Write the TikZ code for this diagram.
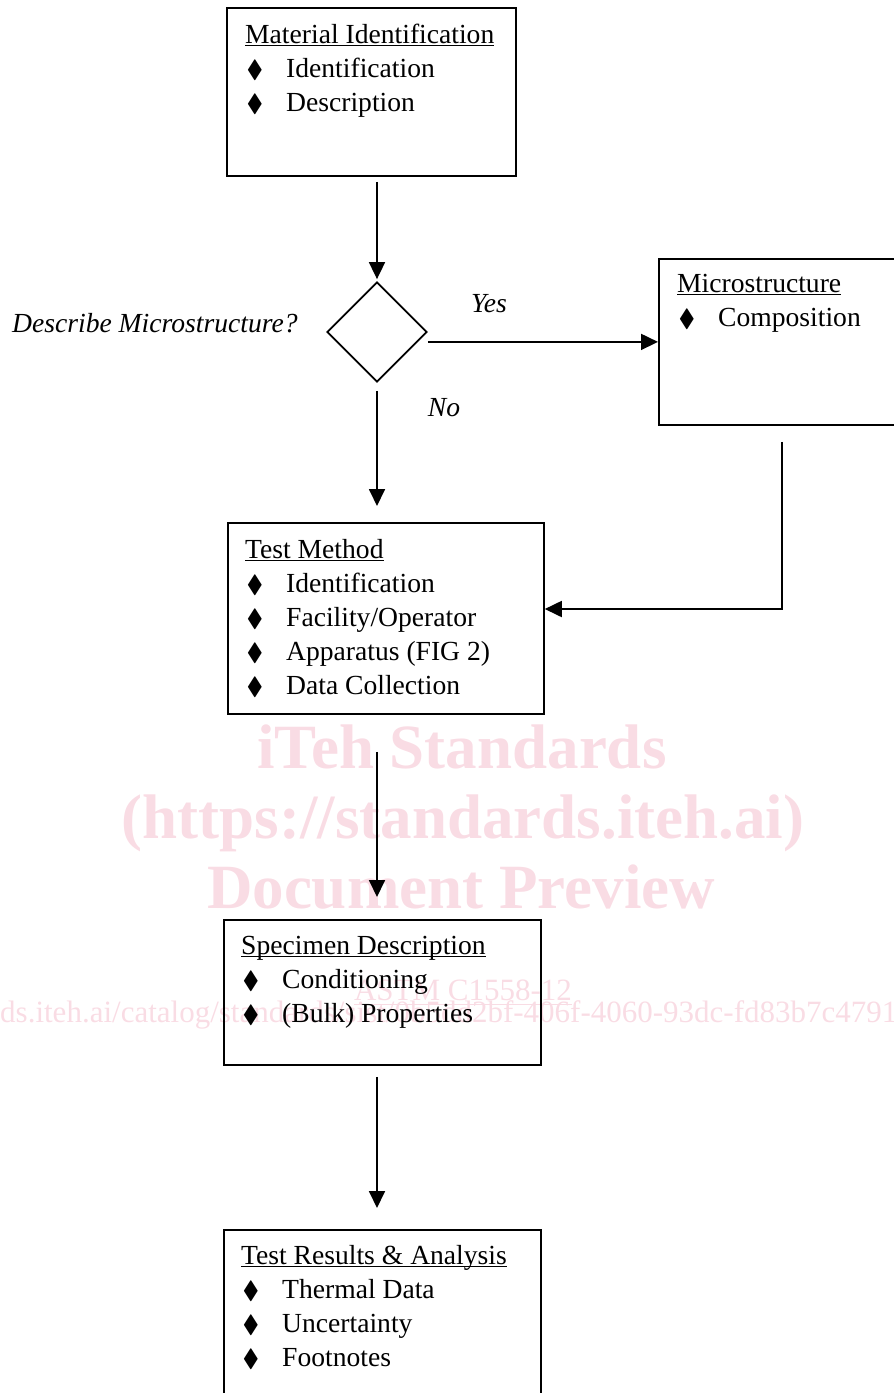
\documentclass[tikz,border=0pt]{standalone}
\usepackage{amssymb}
\usepackage{fontspec}
\setmainfont{Liberation Serif}
\usetikzlibrary{shapes.geometric,arrows.meta}

\definecolor{wmpink}{RGB}{249,220,228}
\newcommand{\hd}[1]{\setbox0=\hbox{#1}\rlap{\rule[-3pt]{\wd0}{1.3pt}}\box0}
\newcommand{\itm}[1]{\makebox[41pt][l]{\hspace{1.5pt}\scalebox{0.9}{$\blacklozenge$}}#1}

\tikzset{
	flowbox/.style={draw, line width=1.8pt, anchor=north west, inner sep=0pt},
	boxtext/.style={anchor=base west, inner sep=0pt, font=\fontsize{27.6}{34}\selectfont},
	lbl/.style={inner sep=0pt, anchor=base, font=\fontsize{27.6}{34}\selectfont\itshape},
	flow/.style={line width=1.8pt, -{Triangle[length=17pt,width=16pt]}},
	wmark/.style={text=wmpink, inner sep=0pt, anchor=base}
}

\begin{document}
\begin{tikzpicture}[x=1pt,y=-1pt]
				\useasboundingbox (0,0) rectangle (894,1393);
				
				% watermark
				\node[wmark, font=\fontsize{63}{70}\selectfont\bfseries] (wmone) at (462,768) {iTeh Standards};
				\node[wmark, font=\fontsize{63}{70}\selectfont\bfseries] (wmtwo) at (463,838) {(https://standards.iteh.ai)};
				\node[wmark, font=\fontsize{63}{70}\selectfont\bfseries] (wmthree) at (461,908) {Document Preview};
				\node[wmark, font=\fontsize{31}{34}\selectfont] (wmfour) at (463,1000) {\underline{ASTM C1558-12}};
				\node[wmark, anchor=base west, font=\fontsize{31}{34}\selectfont] (wmfive) at (0,1022) {ds.iteh.ai/catalog/standards/sist/0b5dd2bf-406f-4060-93dc-fd83b7c47913};
				
				% boxes
				\node[flowbox, minimum width=289pt, minimum height=168pt] (matid) at (226,7) {};
				\node[draw, diamond, line width=1.8pt, inner sep=0pt, minimum width=100pt, minimum height=100pt] (dia) at (377,332) {};
				\node[flowbox, minimum width=248pt, minimum height=166pt] (micro) at (658,258) {};
				\node[flowbox, minimum width=316pt, minimum height=191pt] (tmethod) at (227,522) {};
				\node[flowbox, minimum width=317pt, minimum height=145pt] (specim) at (223,919) {};
				\node[flowbox, minimum width=317pt, minimum height=176pt] (results) at (223,1229) {};
				
				% box texts
				\node[boxtext] (matidtext) at (245,43) {\begin{tabular}[t]{@{}l@{}}
					\hd{Material Identification}\\ \itm{Identification}\\ \itm{Description}\end{tabular}};
				\node[boxtext] (microtext) at (677,292) {\begin{tabular}[t]{@{}l@{}}
					\hd{Microstructure}\\ \itm{Composition}\end{tabular}};
				\node[boxtext] (tmethodtext) at (245,558) {\begin{tabular}[t]{@{}l@{}}
					\hd{Test Method}\\ \itm{Identification}\\ \itm{Facility/Operator}\\ \itm{Apparatus (FIG 2)}\\ \itm{Data Collection}\end{tabular}};
				\node[boxtext] (specimtext) at (241,954) {\begin{tabular}[t]{@{}l@{}}
					\hd{Specimen Description}\\ \itm{Conditioning}\\ \itm{(Bulk) Properties}\end{tabular}};
				\node[boxtext] (resultstext) at (241,1264) {\begin{tabular}[t]{@{}l@{}}
					\hd{Test Results \& Analysis}\\ \itm{Thermal Data}\\ \itm{Uncertainty}\\ \itm{Footnotes}\end{tabular}};
				
				% labels
				\node[lbl, anchor=base west] (question) at (12,332) {Describe Microstructure?};
				\node[lbl] (yes) at (489,312) {Yes};
				\node[lbl] (no) at (444,416) {No};
				
				% connectors
				\coordinate (bend) at (782,609);
				\draw[flow, shorten <=5pt, shorten >=2pt] (matid.south -| dia) -- (dia.north);
				\draw[flow, shorten <=8pt, shorten >=16pt] (dia.south) -- (dia.south |- tmethod.north);
				\draw[flow] (dia.east |- micro.west) -- (micro.west);
				\draw[flow, shorten <=16pt] (micro.south -| bend) -- (bend) -- (bend -| tmethod.east);
				\draw[flow, shorten <=37pt, shorten >=22pt] (dia.south |- tmethod.south) -- (dia.south |- specim.north);
				\draw[flow, shorten <=11pt, shorten >=21pt] (dia.south |- specim.south) -- (dia.south |- results.north);
			\end{tikzpicture}
\end{document}
